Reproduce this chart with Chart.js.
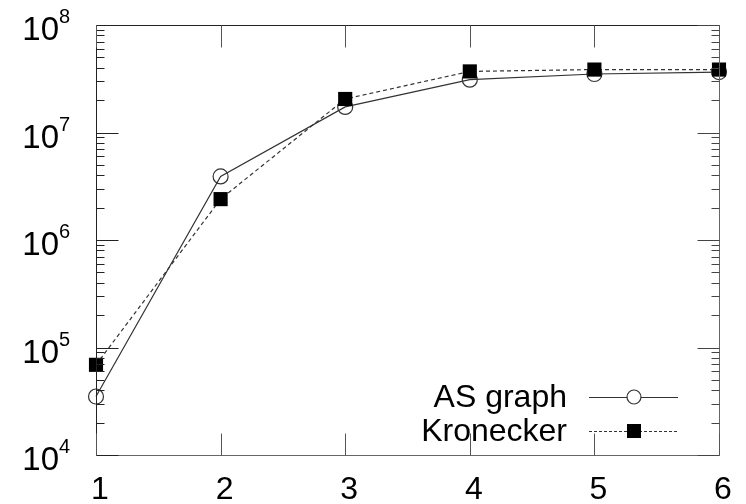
<!DOCTYPE html>
<html>
<head>
<meta charset="utf-8">
<script src="https://cdn.jsdelivr.net/npm/chart.js@4/dist/chart.umd.min.js"></script>
<style>
html,body{margin:0;padding:0;background:#fff;}
#wrap{width:746px;height:504px;position:relative;}
</style>
</head>
<body>
<div id="wrap"><canvas id="c" width="746" height="504"></canvas></div>
<script>
// ---- data ----
const xValues = [1, 2, 3, 4, 5, 6];
const asGraph = [3.5e4, 3.9e6, 1.73e7, 3.1e7, 3.5e7, 3.65e7];
const kronecker = [6.9e4, 2.4e6, 2.05e7, 3.7e7, 3.85e7, 3.85e7];
const seriesNames = ['AS graph', 'Kronecker'];
const yTickExps = [4, 5, 6, 7, 8];
const xTicks = [1, 2, 3, 4, 5, 6];

const FONT = '"Liberation Sans", Arial, sans-serif';

function pts(ys){ return xValues.map((x,i)=>({x:x, y:ys[i]})); }

const framePlugin = {
  id: 'frame',
  afterDraw(chart){
    const ctx = chart.ctx;
    const a = chart.chartArea;
    const xs = chart.scales.x, ys = chart.scales.y;
    const L = Math.round(a.left)+0.5, R = Math.round(a.right)+0.5;
    const T = Math.round(a.top)+0.5, B = Math.round(a.bottom)+0.5;
    ctx.save();
    ctx.lineWidth = 1;
    // frame
    ctx.strokeStyle = '#222';
    ctx.beginPath(); ctx.moveTo(L,B); ctx.lineTo(L,T); ctx.lineTo(R,T); ctx.stroke();
    ctx.strokeStyle = '#666';
    ctx.beginPath(); ctx.moveTo(R,T); ctx.lineTo(R,B); ctx.lineTo(L,B); ctx.stroke();
    // y ticks (major + minor) on left and right
    const MAJ = 22, MIN = 8;
    for (let e = yTickExps[0]; e <= yTickExps[yTickExps.length-1]; e++){
      for (let m = 1; m <= 9; m++){
        const v = m * Math.pow(10, e);
        if (v > ys.max * 1.0001) break;
        const py = Math.round(ys.getPixelForValue(v)) + 0.5;
        const len = (m === 1) ? MAJ : MIN;
        ctx.strokeStyle = '#222';
        ctx.beginPath(); ctx.moveTo(L, py); ctx.lineTo(L+len, py); ctx.stroke();
        ctx.strokeStyle = '#444';
        ctx.beginPath(); ctx.moveTo(R, py); ctx.lineTo(R-len, py); ctx.stroke();
      }
    }
    // x ticks top and bottom
    xTicks.forEach(v=>{
      const px = Math.round(xs.getPixelForValue(v)) + 0.5;
      ctx.strokeStyle = '#555';
      ctx.beginPath(); ctx.moveTo(px, T); ctx.lineTo(px, T+MAJ); ctx.stroke();
      ctx.beginPath(); ctx.moveTo(px, B); ctx.lineTo(px, B-MAJ); ctx.stroke();
    });
    // y labels 10^n
    ctx.fillStyle = '#000';
    yTickExps.forEach(e=>{
      const py = ys.getPixelForValue(Math.pow(10, e));
      ctx.font = '33px ' + FONT;
      ctx.textAlign = 'right';
      ctx.textBaseline = 'alphabetic';
      ctx.fillText('10', 59, py + 15);
      ctx.font = '20px ' + FONT;
      ctx.textAlign = 'left';
      ctx.fillText(String(e), 59, py - 2);
    });
    // legend
    const rows = [397, 431];
    chart.data.datasets.forEach((ds, i)=>{
      const y = rows[i];
      ctx.font = '32px ' + FONT;
      ctx.textAlign = 'right';
      ctx.textBaseline = 'middle';
      ctx.fillStyle = '#000';
      ctx.fillText(ds.label, 567, y + 1);
      ctx.strokeStyle = ds.borderColor;
      ctx.lineWidth = ds.borderWidth;
      ctx.setLineDash(ds.legendDash || []);
      ctx.beginPath(); ctx.moveTo(589, y + 0.5); ctx.lineTo(678, y + 0.5); ctx.stroke();
      ctx.setLineDash([]);
      const cx = 634;
      if (ds.pointStyle === 'circle'){
        ctx.fillStyle = '#fff';
        ctx.strokeStyle = ds.pointBorderColor;
        ctx.lineWidth = 1.2;
        ctx.beginPath(); ctx.arc(cx, y, 7, 0, Math.PI*2); ctx.fill(); ctx.stroke();
      } else {
        ctx.fillStyle = '#000';
        ctx.fillRect(cx - 7, y - 7, 14, 14);
      }
    });
    ctx.restore();
  }
};

new Chart(document.getElementById('c'), {
  type: 'line',
  data: {
    datasets: [
      {
        label: seriesNames[0],
        data: pts(asGraph),
        order: 1,
        borderColor: '#333',
        borderWidth: 1.2,
        pointStyle: 'circle',
        pointRadius: 7.5,
        pointBorderWidth: 1.2,
        pointBorderColor: '#333',
        pointBackgroundColor: 'rgba(0,0,0,0)',
        fill: false,
        tension: 0,
        clip: false
      },
      {
        label: seriesNames[1],
        data: pts(kronecker),
        order: 0,
        borderColor: '#333',
        borderWidth: 1.2,
        borderDash: [4, 3],
        legendDash: [3, 2],
        pointStyle: 'rect',
        pointRadius: 10,
        pointBorderWidth: 0,
        pointBorderColor: '#000',
        pointBackgroundColor: '#000',
        fill: false,
        tension: 0,
        clip: false
      }
    ]
  },
  options: {
    responsive: false,
    animation: false,
    devicePixelRatio: 1,
    layout: { padding: { left: 0, right: 27, top: 25, bottom: 0 } },
    plugins: { legend: { display: false }, tooltip: { enabled: false } },
    scales: {
      x: {
        type: 'linear',
        min: 1, max: 6,
        afterFit: s => { s.height = 49; },
        afterBuildTicks: s => { s.ticks = xTicks.map(v => ({ value: v })); },
        grid: { display: false, drawTicks: false },
        border: { display: false },
        ticks: {
          color: '#000',
          font: { family: FONT, size: 32 },
          padding: 16,
          labelOffset: 4,
          maxRotation: 0,
          autoSkip: false,
          callback: v => String(v)
        }
      },
      y: {
        type: 'logarithmic',
        min: 1e4, max: 1e8,
        afterFit: s => { s.width = 96; },
        grid: { display: false, drawTicks: false },
        border: { display: false },
        ticks: { display: false }
      }
    }
  },
  plugins: [framePlugin]
});
</script>
</body>
</html>
